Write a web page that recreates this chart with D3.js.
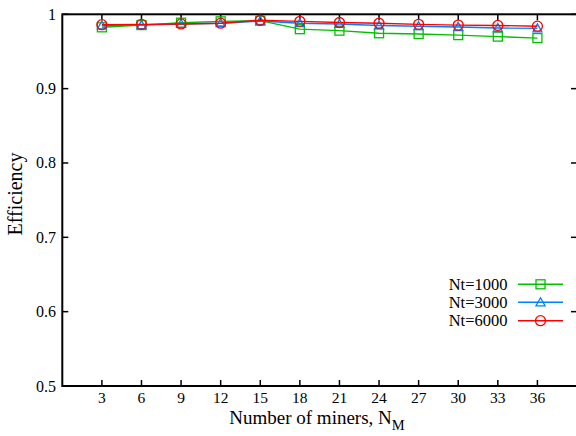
<!DOCTYPE html>
<html><head><meta charset="utf-8">
<script src="https://cdn.jsdelivr.net/npm/d3@7"></script>
<style>body{margin:0;background:#fff}svg{display:block}text{font-family:"Liberation Serif","DejaVu Serif",serif;fill:#000}</style>
</head><body><svg id="c" width="576" height="436"></svg>
<script>
const miners = [3,6,9,12,15,18,21,24,27,30,33,36];
const nt1000 = [0.9825,0.9855,0.9887,0.9905,0.9915,0.980,0.978,0.9745,0.9735,0.972,0.970,0.968];
const nt3000 = [0.985,0.9855,0.987,0.988,0.991,0.988,0.987,0.985,0.984,0.983,0.9815,0.981];
const nt6000 = [0.986,0.9865,0.987,0.988,0.992,0.9905,0.989,0.988,0.9865,0.9855,0.985,0.984];
const seriesNames = ["Nt=1000","Nt=3000","Nt=6000"];
const yTicks = [0.5,0.6,0.7,0.8,0.9,1];
const yTickLabels = ["0.5","0.6","0.7","0.8","0.9","1"];

const svg = d3.select("#c");
const L=62.3, R=577, T=14.3, B=386;
const x = d3.scaleLinear().domain([0,39]).range([L,R]);
const y = d3.scaleLinear().domain([0.5,1]).range([B,T]);
const tl = 6;

svg.append("rect").attr("x",L).attr("y",T).attr("width",R-L).attr("height",B-T)
  .attr("fill","none").attr("stroke","#000").attr("stroke-width",2);

const gx = svg.append("g");
miners.forEach(m=>{
  gx.append("line").attr("x1",x(m)).attr("x2",x(m)).attr("y1",B).attr("y2",B-tl).attr("stroke","#000").attr("stroke-width",1.5);
  gx.append("line").attr("x1",x(m)).attr("x2",x(m)).attr("y1",T).attr("y2",T+tl).attr("stroke","#000").attr("stroke-width",1.5);
  gx.append("text").attr("x",x(m)).attr("y",402.5).attr("text-anchor","middle").attr("font-size",15.5).text(m);
});
const gy = svg.append("g");
yTicks.forEach((v,i)=>{
  gy.append("line").attr("x1",L).attr("x2",L+tl).attr("y1",y(v)).attr("y2",y(v)).attr("stroke","#000").attr("stroke-width",1.5);
  gy.append("line").attr("x1",R).attr("x2",R-tl).attr("y1",y(v)).attr("y2",y(v)).attr("stroke","#000").attr("stroke-width",1.5);
  gy.append("text").attr("x",56).attr("y",y(v)+5.5).attr("text-anchor","end").attr("font-size",16).text(yTickLabels[i]);
});

const xt = svg.append("text").attr("x",317).attr("y",424).attr("text-anchor","middle").attr("font-size",19);
xt.append("tspan").text("Number of miners, N");
xt.append("tspan").attr("font-size",14.5).attr("dy",5.5).text("M");
svg.append("text").attr("transform","translate(22,194) rotate(-90)").attr("text-anchor","middle").attr("font-size",20).text("Efficiency");

const colors = ["#00c000","#0080ff","#ff0000"];
const data = [nt1000,nt3000,nt6000];
const line = d3.line().x((d,i)=>x(miners[i])).y(d=>y(d));

function marker(g,k,cx,cy){
  if(k===0) g.append("rect").attr("x",cx-4.5).attr("y",cy-4.5).attr("width",9).attr("height",9).attr("fill","none").attr("stroke",colors[k]).attr("stroke-width",1.3);
  else if(k===1) g.append("path").attr("d",`M${cx},${cy-4.5}L${cx+4.5},${cy+3.5}L${cx-4.5},${cy+3.5}Z`).attr("fill","none").attr("stroke",colors[k]).attr("stroke-width",1.3);
  else g.append("circle").attr("cx",cx).attr("cy",cy).attr("r",5).attr("fill","none").attr("stroke",colors[k]).attr("stroke-width",1.3);
}

data.forEach((s,k)=>{
  const g = svg.append("g");
  g.append("path").attr("d",line(s)).attr("fill","none").attr("stroke",colors[k]).attr("stroke-width",1.4);
  s.forEach((v,i)=>marker(g,k,x(miners[i]),y(v)));
});

const ly=[284.3,302.3,320.7];
seriesNames.forEach((n,k)=>{
  const g = svg.append("g");
  g.append("text").attr("x",507.5).attr("y",ly[k]+5.5).attr("text-anchor","end").attr("font-size",16.5).text(n);
  g.append("line").attr("x1",518).attr("x2",563).attr("y1",ly[k]).attr("y2",ly[k]).attr("stroke",colors[k]).attr("stroke-width",1.4);
  marker(g,k,540.5,ly[k]);
});
</script></body></html>
